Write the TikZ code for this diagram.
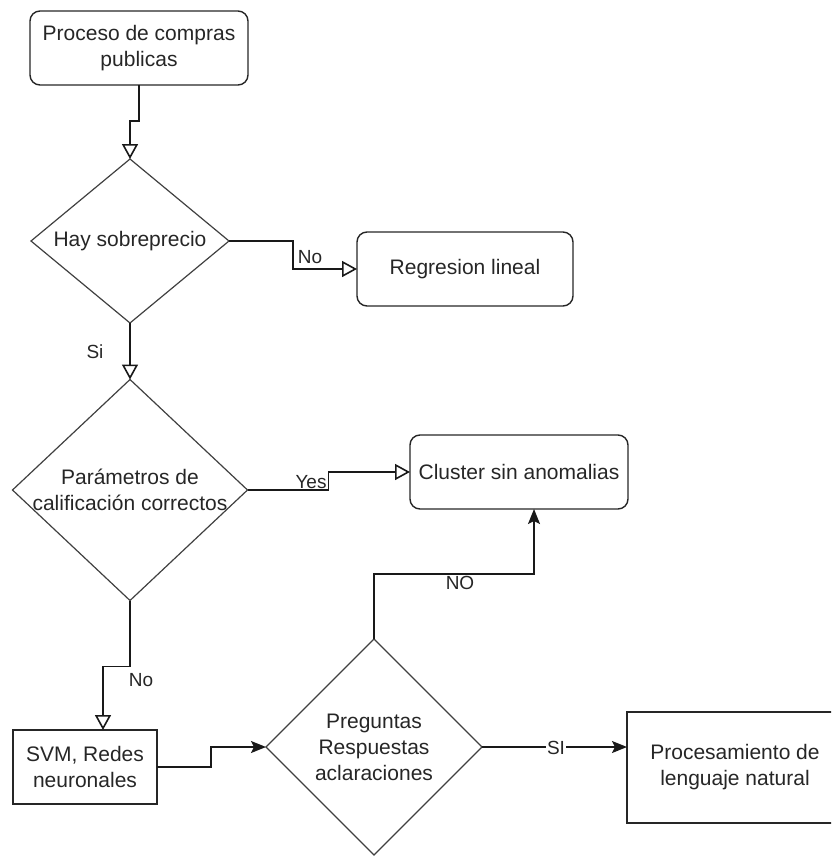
\documentclass[tikz,border=0pt]{standalone}
\usepackage{fontspec}
\setmainfont{Liberation Sans}
\usetikzlibrary{shapes.geometric,arrows.meta,calc}
\begin{document}
\begin{tikzpicture}[x=1pt,y=-1pt,
  every node/.style={font=\fontsize{21}{26}\selectfont, text=black!85},
  rbox/.style={draw=black!85, line width=1.4pt, rounded corners=10pt, align=center, inner sep=0pt, outer sep=0pt},
  sbox/.style={draw=black!85, line width=1.4pt, align=center, inner sep=0pt, outer sep=0pt},
  dia/.style={diamond, draw=black!75, line width=1.2pt, inner sep=0pt, outer sep=0pt},
  flow/.style={draw=black!90, line width=1.6pt},
  openhead/.style={flow, -{Triangle[open, length=15pt, width=16pt]}},
  solidhead/.style={flow, -{Stealth[length=15pt, width=12pt, inset=3pt]}},
  lbl/.style={font=\fontsize{19}{22}\selectfont, inner sep=1pt}
]
\useasboundingbox (0,0) rectangle (831,856);
\clip (0,0) rectangle (831,856);

% process boxes
\node[rbox, minimum width=218pt, minimum height=74pt] (start) at (139,48) {Proceso de compras\\publicas};
\node[rbox, minimum width=216pt, minimum height=74pt] (reg) at (465,269) {Regresion lineal};
\node[rbox, minimum width=218pt, minimum height=74pt] (clu) at (519,472) {Cluster sin anomalias};
\node[sbox, minimum width=144pt, minimum height=74pt] (svm) at (85,767) {SVM, Redes\\neuronales};
\node[sbox, minimum width=216pt, minimum height=111pt] (nlp) at (735,767.5) {Procesamiento de\\lenguaje natural};

% decisions
\node[dia, minimum width=198pt, minimum height=164pt,
      label={center:Hay sobreprecio}] (d1) at (130,241) {};
\node[dia, minimum width=235pt, minimum height=221pt,
      label={[align=center]center:Parámetros de\\calificación correctos}] (d2) at (130,490) {};
\node[dia, minimum width=216pt, minimum height=216pt,
      label={[align=center]center:Preguntas\\Respuestas\\aclaraciones}] (d3) at (374,747) {};

% connectors
\draw[openhead] (start.south) -- ++(0,36) -| (d1.north);
\draw[openhead] (d1.east) -- ++(64,0) |- (reg.west);
\node[lbl] (lno1) at (310,257) {No};
\draw[openhead] (d1.south) -- (d2.north);
\node[lbl] (lsi1) at (95,352) {Si};
\draw[openhead] (d2.east) -- ++(81,0) |- (clu.west);
\node[lbl] (lyes) at (311,482) {Yes};
\draw[openhead] (d2.south) -- ++(0,66) -| ([xshift=18pt]svm.north);
\node[lbl] (lno2) at (141,680) {No};
\draw[solidhead] (svm.east) -- ++(54,0) |- (d3.west);
\draw[solidhead] (d3.north) -- ++(0,-65) -| ([xshift=15pt]clu.south);
\node[lbl, fill=white] (lno3) at (460,583) {NO};
\draw[solidhead] (d3.east) -- (d3.east -| nlp.west);
\node[lbl, fill=white] (lsi2) at (556,748) {SI};
\end{tikzpicture}
\end{document}
